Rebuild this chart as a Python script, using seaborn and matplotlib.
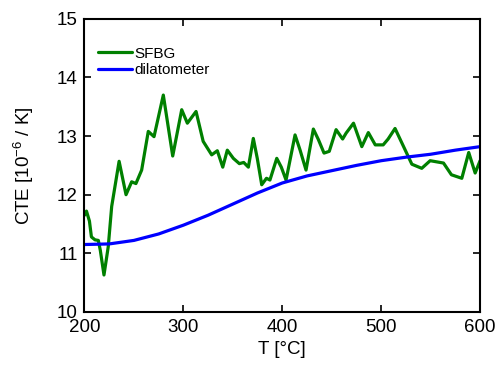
import matplotlib
matplotlib.use("Agg")
import matplotlib.pyplot as plt
import seaborn as sns

# --- Data ---
sfbg_T = [200, 202, 205, 207, 210.6, 214, 216, 219.7, 224, 227.5, 235, 242, 247.7,
          252, 257.8, 264.5, 270.3, 279.7, 289.2, 298.3, 304, 312.8, 320, 328.6,
          334.3, 339.8, 344.4, 350.5, 356.6, 361, 365.7, 370.7, 374.7, 379.2, 384,
          387.5, 394.4, 399, 403.8, 412.9, 418, 424, 431.4, 436.5, 442.2, 447.5,
          454.4, 461, 464.5, 472, 480.4, 487, 494, 502, 507, 514, 526, 531, 541,
          549.5, 563, 571, 581.5, 588.5, 595, 600]
sfbg_cte = [11.65, 11.72, 11.55, 11.28, 11.23, 11.22, 11.05, 10.63, 11.11, 11.80,
            12.57, 12.00, 12.22, 12.19, 12.42, 13.08, 12.99, 13.70, 12.66, 13.45,
            13.22, 13.42, 12.91, 12.68, 12.75, 12.47, 12.76, 12.62, 12.53, 12.55,
            12.47, 12.96, 12.62, 12.17, 12.28, 12.25, 12.62, 12.47, 12.25, 13.02,
            12.76, 12.42, 13.12, 12.94, 12.71, 12.74, 13.11, 12.95, 13.05, 13.22,
            12.82, 13.06, 12.85, 12.85, 12.95, 13.13, 12.70, 12.52, 12.45, 12.58,
            12.54, 12.34, 12.28, 12.72, 12.37, 12.58]

dil_T = [200, 225, 250, 275, 300, 325, 350, 375, 400, 425, 450, 475, 500, 525,
         550, 575, 600]
dil_cte = [11.15, 11.16, 11.22, 11.33, 11.48, 11.65, 11.84, 12.03, 12.20, 12.32,
           12.41, 12.50, 12.58, 12.64, 12.69, 12.76, 12.82]

x_ticks = [200, 300, 400, 500, 600]
y_ticks = [10, 11, 12, 13, 14, 15]

# --- Style ---
sns.set_style("ticks")
plt.rcParams['font.family'] = ['Liberation Sans', 'DejaVu Sans']
plt.rcParams['mathtext.fontset'] = 'custom'
plt.rcParams['mathtext.rm'] = 'Liberation Sans'
plt.rcParams['mathtext.it'] = 'Liberation Sans:italic'
plt.rcParams['text.color'] = 'black'
plt.rcParams['axes.labelcolor'] = 'black'

fig = plt.figure(figsize=(4.97, 3.70), dpi=100)
ax = fig.add_axes([0.170, 0.157, 0.796, 0.792])

sns.lineplot(x=sfbg_T, y=sfbg_cte, ax=ax, color='#008000', lw=2.3,
             label='SFBG', sort=False)
sns.lineplot(x=dil_T, y=dil_cte, ax=ax, color='#0000ff', lw=2.3,
             label='dilatometer', sort=False)

ax.set_xlim(200, 600)
ax.set_ylim(10, 15)
ax.set_xticks(x_ticks)
ax.set_yticks(y_ticks)
ax.tick_params(direction='in', length=5, width=1.2, labelsize=13.5,
               top=True, right=True, colors='black', pad=5)
for s in ax.spines.values():
    s.set_linewidth(1.5)
    s.set_color('black')

ax.set_xlabel('T [°C]', fontsize=13.5, labelpad=4)
ax.set_ylabel('CTE [10$^{-6}$ / K]', fontsize=13.5, labelpad=15)

ax.legend(loc='upper left', frameon=False, fontsize=11, handlelength=2.2,
          handletextpad=0.2, labelspacing=0.15, borderaxespad=0, borderpad=0,
          bbox_to_anchor=(0.034, 0.905))

fig.savefig('out.png', dpi=100)
